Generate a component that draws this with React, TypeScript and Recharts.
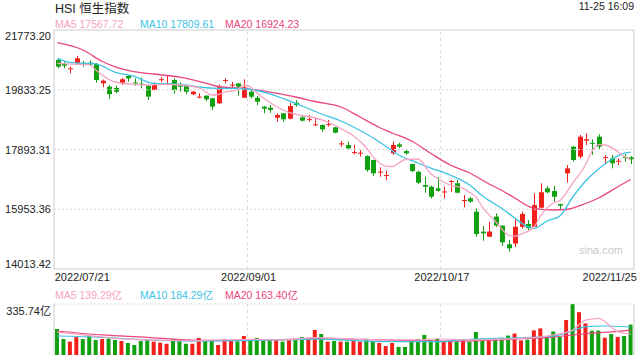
import React from 'react';
import { ComposedChart, Bar, Line, XAxis, YAxis, ReferenceLine, Cell } from 'recharts';

const FONT = "'Liberation Sans', Arial, 'Noto Sans CJK SC', sans-serif";
const RED = '#f2201a';
const GREEN = '#10a010';
const C_MA5 = '#f7a3c3';
const C_MA10 = '#3cc3e3';
const C_MA20 = '#ea457c';
const GRID = '#d8d8d8';
const AXIS = '#cccccc';

const dates = [
  '2022/07/21','2022/07/22','2022/07/25','2022/07/26','2022/07/27','2022/07/28','2022/07/29',
  '2022/08/01','2022/08/02','2022/08/03','2022/08/04','2022/08/05',
  '2022/08/08','2022/08/09','2022/08/10','2022/08/11','2022/08/12',
  '2022/08/15','2022/08/16','2022/08/17','2022/08/18','2022/08/19',
  '2022/08/22','2022/08/23','2022/08/24','2022/08/25','2022/08/26',
  '2022/08/29','2022/08/30','2022/08/31',
  '2022/09/01','2022/09/02','2022/09/05','2022/09/06','2022/09/07','2022/09/08','2022/09/09',
  '2022/09/13','2022/09/14','2022/09/15','2022/09/16',
  '2022/09/19','2022/09/20','2022/09/21','2022/09/22','2022/09/23',
  '2022/09/26','2022/09/27','2022/09/28','2022/09/29','2022/09/30',
  '2022/10/03','2022/10/05','2022/10/06','2022/10/07',
  '2022/10/10','2022/10/11','2022/10/12','2022/10/13','2022/10/14',
  '2022/10/17','2022/10/18','2022/10/19','2022/10/20','2022/10/21',
  '2022/10/24','2022/10/25','2022/10/26','2022/10/27','2022/10/28','2022/10/31',
  '2022/11/01','2022/11/02','2022/11/03','2022/11/04',
  '2022/11/07','2022/11/08','2022/11/09','2022/11/10','2022/11/11',
  '2022/11/14','2022/11/15','2022/11/16','2022/11/17','2022/11/18',
  '2022/11/21','2022/11/22','2022/11/23','2022/11/24','2022/11/25',
];

const opens = [
  20799,20692,20510,20692,20700,20712,20670,20042,19932,19890,
  20040,20280,20070,20030,19960,19825,20160,19987,20150,20010,
  19965,19685,19600,19640,19555,19393,20130,19990,20040,19575,
  19770,19575,19283,19250,18926,19068,18894,19413,18938,18870,
  18700,18689,18700,18613,18080,18040,17790,17775,17682,17552,
  17160,17055,17770,18060,17845,17422,17170,16740,16685,16633,
  16520,16850,16795,16243,16308,15875,15225,15060,15715,15420,
  14815,14840,15385,15475,15385,16005,16633,16545,16123,17120,
  17985,17660,18180,18110,18310,17635,17605,17520,17650,17640,
];
const highs = [
  20831,20744,20582,20929,20767,20783,20702,20166,19987,19965,
  20220,20312,20200,20230,19990,20075,20255,20280,20205,20075,
  19990,19800,19718,19660,19570,19997,20205,20090,20045,20173,
  19825,19630,19305,19338,19068,19080,19413,19500,19000,19013,
  18905,18710,18851,18630,18172,18150,18040,17877,17700,17570,
  17315,17205,18150,18110,17877,17440,17205,17010,16718,17010,
  16685,16903,16903,16415,16350,15985,15410,15550,15820,15440,
  14955,15660,15875,15600,16470,16795,16700,16710,16130,17390,
  18000,18365,18418,18225,18388,17715,17715,17605,17745,17680,
];
const lows = [
  20530,20530,20367,20670,20582,20604,20062,19913,19533,19718,
  19990,20095,19965,19880,19500,19809,20075,19980,19705,19770,
  19685,19660,19555,19468,19176,19370,20045,19913,19640,19565,
  19555,19338,19068,19088,18796,18796,18870,19283,18800,18796,
  18656,18470,18635,18420,17985,17900,17735,17660,17170,17030,
  17010,16903,17720,17945,17720,17160,16773,16490,16300,16525,
  16300,16525,16470,16015,16165,15060,14930,15050,15385,14760,
  14575,14730,15330,15280,15385,15990,16470,16200,15929,16820,
  17500,17605,18039,17720,17877,17412,17280,17390,17500,17420,
];
const closes = [
  20582,20614,20530,20854,20680,20655,20150,20127,19689,19767,
  20174,20202,20046,20003,19611,19987,20175,20040,19825,19932,
  19770,19770,19610,19523,19283,19921,20150,20000,19932,19913,
  19607,19445,19218,19176,19013,18873,19305,19338,18829,18880,
  18710,18548,18715,18440,18093,17930,17810,17790,17227,17120,
  17175,17065,18040,17985,17770,17195,16815,16685,16360,16545,
  16530,16870,16490,16253,16200,15150,15170,15230,15425,14880,
  14685,15385,15800,15340,16090,16505,16505,16360,16070,17280,
  17552,18310,18225,18090,17985,17645,17445,17527,17630,17575,
];
const volumes = [
  171,105,88,118,105,125,99,105,107,99,
  92,79,66,92,99,88,81,74,105,94,
  74,74,112,92,99,66,105,99,90,125,
  105,112,99,105,99,88,99,99,118,99,
  165,138,88,92,88,88,99,88,107,92,
  79,59,79,53,53,97,105,132,97,107,
  88,92,88,105,88,151,107,97,107,114,
  128,141,96,101,162,175,117,155,119,230,
  335.74,282,208,160,161,114,138,119.5,125,200,
];

// Moving-average readings (null = not read at that day)
const ma5Pts: Record<number, number> = {
  0:20692,3:20659,5:20643,6:20474,8:20166,9:20085,12:20010,14:19987,17:20010,19:19987,
  22:19900,24:19663,25:19679,26:19760,28:19825,29:19987,30:19922,31:19727,33:19420,36:19094,
  38:18997,40:18916,42:18786,44:18575,46:18331,48:17942,49:17660,51:17357,52:17341,53:17455,
  54:17568,56:17585,58:17098,59:16951,61:16740,63:16633,64:16497,65:16350,66:16026,68:15555,
  70:15117,71:15084,72:15149,74:15386,75:15734,77:16156,78:16237,80:16805,82:17406,83:17844,
  84:18049,85:18039,87:17822,88:17666,89:17567.72,
};
const ma10Pts: Record<number, number> = {
  0:20854,2:20724,6:20670,9:20400,12:20264,14:20085,15:20036,17:20033,20:19987,22:19922,
  25:19880,27:19880,30:19841,33:19702,35:19556,38:19305,41:19046,44:18818,47:18510,48:18396,
  50:18136,53:17714,56:17455,58:17292,61:17065,64:16740,66:16383,69:15977,71:15669,73:15386,
  74:15335,76:15571,78:15734,80:16351,82:16870,84:17260,86:17568,88:17773,89:17809.61,
};
const ma20Pts: Record<number, number> = {
  0:21361,4:21124,7:20750,9:20578,13:20387,15:20345,19:20241,23:20052,25:19939,29:19877,
  33:19753,37:19598,40:19452,44:19273,47:18948,50:18607,52:18429,55:18169,58:17763,61:17390,
  64:17130,67:16773,69:16562,71:16318,74:15983,77:15929,79:15945,82:16140,84:16318,87:16685,
  89:16924.23,
};
const volMa5Pts: Record<number, number> = {
  0:151,4:132,9:110,14:99,20:94,25:99,30:103,35:99,40:114,46:105,51:99,56:99,59:107,64:99,
  69:105,74:114,77:132,80:165,82:230,84:241,85:219,87:153,89:139.29,
};
const volMa10Pts: Record<number, number> = {
  0:125,7:116,14:99,20:92,27:94,35:99,40:105,51:88,59:88,64:103,72:114,77:125,80:160,
  82:187,85:191,89:184.29,
};
const volMa20Pts: Record<number, number> = {
  0:158,7:132,14:116,20:99,25:94,33:99,40:108,51:99,62:92,72:107,77:118,82:140,87:156,
  89:163.4,
};

const priceTicks = [14013.42, 15953.36, 17893.31, 19833.25, 21773.2];
const dateTicks = ['2022/07/21', '2022/09/01', '2022/10/17', '2022/11/25'];
const volMax = 335.74;

const pick = (m: Record<number, number>, i: number) => (m[i] === undefined ? null : m[i]);

const data = dates.map((d, i) => ({
  date: d,
  open: opens[i],
  high: highs[i],
  low: lows[i],
  close: closes[i],
  vol: volumes[i],
  ma5: pick(ma5Pts, i),
  ma10: pick(ma10Pts, i),
  ma20: pick(ma20Pts, i),
  vma5: pick(volMa5Pts, i),
  vma10: pick(volMa10Pts, i),
  vma20: pick(volMa20Pts, i),
}));

const Candle = (props: any) => {
  const { x, y, width, height, payload } = props;
  if (x == null || y == null) return null;
  const { open, close, high, low } = payload;
  const top = Math.min(y, y + height);
  const h = Math.abs(height);
  const cx = Math.round(x + width / 2) + 0.5;
  const span = high - low || 1;
  const yOf = (v: number) => top + ((high - v) / span) * h;
  const color = close >= open ? RED : GREEN;
  const bTop = yOf(Math.max(open, close));
  const bBot = yOf(Math.min(open, close));
  return (
    <g>
      <line x1={cx} x2={cx} y1={top} y2={top + h} stroke={color} strokeWidth={1} />
      <rect x={cx - width / 2} y={bTop} width={width} height={Math.max(bBot - bTop, 1)} fill={color} />
    </g>
  );
};

const PriceTick = (props: any) => {
  const { y, payload } = props;
  const v = payload.value;
  let dy = 4;
  if (v === priceTicks[priceTicks.length - 1]) dy = 10;
  if (v === priceTicks[0]) dy = -1.5;
  return (
    <text x={51} y={y + dy} textAnchor="end" fontSize={11} fill="#222" fontFamily={FONT}>
      {v.toFixed(2)}
    </text>
  );
};

const DateTick = (props: any) => {
  const { x, payload } = props;
  const v = payload.value;
  let anchor = 'middle';
  let dx = -2;
  if (v === dates[0]) { anchor = 'start'; dx = -2.5; }
  if (v === dates[dates.length - 1]) { anchor = 'end'; dx = 6; }
  return (
    <text x={x + dx} y={281} textAnchor={anchor} fontSize={11} fill="#222" fontFamily={FONT}>
      {v}
    </text>
  );
};

const VolTick = (props: any) => {
  const { y, payload } = props;
  const v = payload.value;
  const label = v === 0 ? '0' : v.toFixed(2) + '亿';
  const dy = v === 0 ? -3 : 11;
  return (
    <text x={51} y={y + dy} textAnchor="end" fontSize={11} fill="#222" fontFamily={FONT}>
      {label}
    </text>
  );
};

export default function App() {
  return (
    <div style={{ position: 'absolute', left: 0, top: 0, width: 640, height: 360, background: '#fff', fontFamily: FONT }}>
      <div style={{ position: 'absolute', left: 0, top: 0 }}>
        <ComposedChart width={640} height={290} data={data} margin={{ top: 30, right: 6, left: 0, bottom: 0 }}>
          <XAxis xAxisId="b" dataKey="date" ticks={dateTicks} interval={0} tick={<DateTick />} tickLine={false} axisLine={{ stroke: AXIS }} height={21} />
          <XAxis xAxisId="t" dataKey="date" orientation="top" tick={false} tickLine={false} axisLine={{ stroke: AXIS }} height={0} />
          <YAxis yAxisId="p" type="number" domain={[priceTicks[0], priceTicks[priceTicks.length - 1]]} ticks={priceTicks} tick={<PriceTick />} tickLine={false} axisLine={{ stroke: AXIS }} width={54} allowDataOverflow />
          <YAxis yAxisId="r" orientation="right" type="number" domain={[0, 1]} tick={false} tickLine={false} axisLine={{ stroke: AXIS }} width={0} />
          <ReferenceLine xAxisId="b" yAxisId="p" y={priceTicks[priceTicks.length - 1]} stroke={AXIS} />
          <ReferenceLine xAxisId="b" yAxisId="p" x={dates[dates.length - 1]} position="end" stroke={AXIS} />
          {priceTicks.slice(1, -1).map((v) => (
            <ReferenceLine key={v} xAxisId="b" yAxisId="p" y={v} stroke={GRID} strokeDasharray="2 2" />
          ))}
          {dateTicks.slice(1, -1).map((d) => (
            <ReferenceLine key={d} xAxisId="b" yAxisId="p" x={d} position="start" stroke={GRID} strokeDasharray="3 3" />
          ))}
          <Bar xAxisId="b" yAxisId="p" dataKey={(d: any) => [d.low, d.high]} barSize={5} shape={<Candle />} isAnimationActive={false} />
          <Line xAxisId="b" yAxisId="p" dataKey="ma20" type="monotone" stroke={C_MA20} strokeWidth={1.3} dot={false} connectNulls isAnimationActive={false} />
          <Line xAxisId="b" yAxisId="p" dataKey="ma10" type="monotone" stroke={C_MA10} strokeWidth={1.3} dot={false} connectNulls isAnimationActive={false} />
          <Line xAxisId="b" yAxisId="p" dataKey="ma5" type="monotone" stroke={C_MA5} strokeWidth={1.3} dot={false} connectNulls isAnimationActive={false} />
        </ComposedChart>
      </div>
      <div style={{ position: 'absolute', left: 0, top: 290 }}>
        <ComposedChart width={640} height={70} data={data} margin={{ top: 14, right: 6, left: 0, bottom: 5 }}>
          <XAxis xAxisId="b" dataKey="date" hide />
          <YAxis yAxisId="v" type="number" domain={[0, volMax]} ticks={[0, volMax]} tick={<VolTick />} tickLine={false} axisLine={{ stroke: AXIS }} width={54} allowDataOverflow />
          <YAxis yAxisId="r" orientation="right" type="number" domain={[0, 1]} tick={false} tickLine={false} axisLine={{ stroke: AXIS }} width={0} />
          <ReferenceLine xAxisId="b" yAxisId="v" x={dates[dates.length - 1]} position="end" stroke={AXIS} />
          <ReferenceLine xAxisId="b" yAxisId="v" y={volMax} stroke={GRID} strokeDasharray="2 2" />
          {dateTicks.slice(1, -1).map((d) => (
            <ReferenceLine key={d} xAxisId="b" yAxisId="v" x={d} position="start" stroke={GRID} strokeDasharray="3 3" />
          ))}
          <Bar xAxisId="b" yAxisId="v" dataKey="vol" barSize={4} isAnimationActive={false}>
            {data.map((d, i) => (
              <Cell key={i} fill={d.close >= d.open ? RED : GREEN} />
            ))}
          </Bar>
          <Line xAxisId="b" yAxisId="v" dataKey="vma20" type="monotone" stroke={C_MA20} strokeWidth={1.2} dot={false} connectNulls isAnimationActive={false} />
          <Line xAxisId="b" yAxisId="v" dataKey="vma10" type="monotone" stroke={C_MA10} strokeWidth={1.2} dot={false} connectNulls isAnimationActive={false} />
          <Line xAxisId="b" yAxisId="v" dataKey="vma5" type="monotone" stroke={C_MA5} strokeWidth={1.2} dot={false} connectNulls isAnimationActive={false} />
        </ComposedChart>
      </div>
      <svg width={640} height={360} style={{ position: 'absolute', left: 0, top: 0, pointerEvents: 'none' }}>
        <text x={55} y={13} fontSize={12.5} fill="#222" fontFamily={FONT}>HSI 恒生指数</text>
        <text x={634} y={10} fontSize={10.5} fill="#222" textAnchor="end" fontFamily={FONT}>11-25 16:09</text>
        <text x={55} y={27.5} fontSize={10.5} fill={C_MA5} fontFamily={FONT}>MA5 17567.72</text>
        <text x={140} y={27.5} fontSize={10.5} fill={C_MA10} fontFamily={FONT}>MA10 17809.61</text>
        <text x={225} y={27.5} fontSize={10.5} fill={C_MA20} fontFamily={FONT}>MA20 16924.23</text>
        <text x={55} y={298.5} fontSize={10.5} fill={C_MA5} fontFamily={FONT}>MA5 139.29亿</text>
        <text x={140} y={298.5} fontSize={10.5} fill={C_MA10} fontFamily={FONT}>MA10 184.29亿</text>
        <text x={225} y={298.5} fontSize={10.5} fill={C_MA20} fontFamily={FONT}>MA20 163.40亿</text>
        <text x={623} y={254} fontSize={11} fill="#c8c8c8" textAnchor="end" fontFamily={FONT}>sina.com</text>
      </svg>
    </div>
  );
}
